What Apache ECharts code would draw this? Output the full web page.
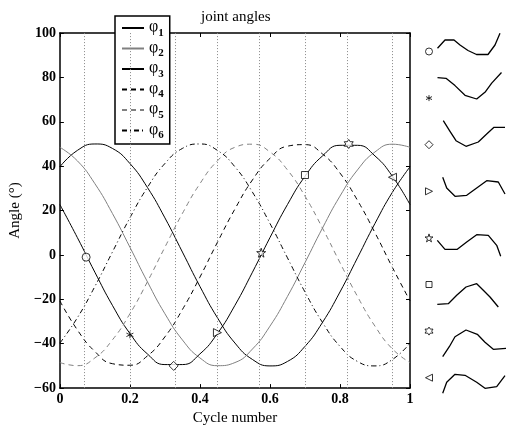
<!DOCTYPE html>
<html>
<head>
<meta charset="utf-8">
<script src="https://cdn.jsdelivr.net/npm/echarts@6/dist/echarts.min.js"></script>
<style>
  html, body { margin: 0; padding: 0; background: #fff; }
  #chart { width: 506px; height: 431px; }
</style>
</head>
<body>
<div id="chart"></div>
<script>
// cycle positions (x) and joint angle values
const cycle = [0, 0.05, 0.1, 0.15, 0.2, 0.25, 0.3, 0.35, 0.4, 0.45, 0.5,
  0.55, 0.6, 0.65, 0.7, 0.75, 0.8, 0.85, 0.9, 0.95, 1];
const phi1 = [39.7, 47.1, 50.0, 48.0, 41.2, 30.4, 16.7, 1.3, -14.2, -28.3, -39.7,
  -47.1, -50.0, -48.0, -41.2, -30.4, -16.7, -1.3, 14.2, 28.3, 39.7];
const phi2 = [48.5, 42.4, 32.1, 18.7, 3.5, -12.1, -26.5, -38.3, -46.4, -49.9, -48.5,
  -42.4, -32.1, -18.7, -3.5, 12.1, 26.5, 38.3, 46.4, 49.9, 48.5];
const phi3 = [22.7, 7.8, -7.8, -22.7, -35.4, -44.6, -49.4, -49.4, -44.6, -35.4, -22.7,
  -7.8, 7.8, 22.7, 35.4, 44.6, 49.4, 49.4, 44.6, 35.4, 22.7];
const phi4 = [-20.7, -33.8, -43.5, -49.0, -49.7, -45.5, -36.9, -24.6, -10.0, 5.7, 20.7,
  33.8, 43.5, 49.0, 49.7, 45.5, 36.9, 24.6, 10.0, -5.7, -20.7];
const phi5 = [-48.5, -49.9, -46.4, -38.3, -26.5, -12.1, 3.5, 18.7, 32.1, 42.4, 48.5,
  49.9, 46.4, 38.3, 26.5, 12.1, -3.5, -18.7, -32.1, -42.4, -48.5];
const phi6 = [-39.7, -28.3, -14.2, 1.3, 16.7, 30.4, 41.2, 48.0, 50.0, 47.1, 39.7,
  28.3, 14.2, -1.3, -16.7, -30.4, -41.2, -48.0, -50.0, -47.1, -39.7];

// sampled instants (dotted lines + markers on phi3)
const markX = [0.075, 0.2, 0.325, 0.45, 0.575, 0.7, 0.825, 0.95];
const markY = [-1, -36, -50, -35, 1, 36, 50, 35];

// body shapes at each sampled instant (local x, local y)
const pose1 = [[0.5,3.2],[8,11.5],[17,11.5],[23,6.5],[31,1],[39.5,-3],[51,-3],[58,6.5],[63,18.2]];
const pose2 = [[0.5,20.4],[9,19.8],[18,12.5],[28,2.8],[39.7,-0.9],[48.5,6.4],[54.7,15],[64.5,25.6]];
const pose3 = [[6.3,24],[13,13.4],[19,4],[29,-1.6],[41.3,2.7],[49.7,10.7],[57,17.4],[68,17.4]];
const pose4 = [[5.7,14],[9.7,3.3],[18,-5],[29.7,-4],[39.7,3.3],[49.7,10.6],[61.3,9.3],[68,-2.7]];
const pose5 = [[0.3,-2.4],[8,-11.4],[20.3,-11.4],[29.7,-4.1],[39.7,3.2],[51.3,2.6],[59.7,-7.4],[63.7,-18.4]];
const pose6 = [[0.3,-19.8],[11.3,-19.2],[19.7,-10.8],[29,-2.5],[39.7,0.8],[46.3,-5.8],[53,-12.5],[61.3,-22.5]];
const pose7 = [[5.7,-25.6],[12.3,-15.6],[18,-5.6],[29,1.1],[40.3,-3.2],[48,-11.2],[56.3,-18.2],[69,-17.2]];
const pose8 = [[5.7,-15.6],[9.7,-4.6],[18,3.4],[28,2.4],[39.7,-4.6],[48,-10.6],[59.7,-9],[68,2]];
const poses = [pose1, pose2, pose3, pose4, pose5, pose6, pose7, pose8];

const names = ['φ1', 'φ2', 'φ3', 'φ4', 'φ5', 'φ6'];

const asterisk = 'path://M0,-1L0,1M-0.87,-0.5L0.87,0.5M-0.87,0.5L0.87,-0.5';
const star5 = 'path://M0,-1L0.2245,-0.309L0.951,-0.309L0.363,0.118L0.588,0.809L0,0.382L-0.588,0.809L-0.363,0.118L-0.951,-0.309L-0.2245,-0.309Z';
const star6 = 'path://M0,-1L0.289,-0.5L0.866,-0.5L0.577,0L0.866,0.5L0.289,0.5L0,1L-0.289,0.5L-0.866,0.5L-0.577,0L-0.866,-0.5L-0.289,-0.5Z';
const triRight = 'path://M-0.8,-1L1,0L-0.8,1Z';
const triLeft = 'path://M0.8,-1L-1,0L0.8,1Z';
const markSymbols = ['circle', asterisk, 'diamond', triRight, star5, 'rect', star6, triLeft];
const markSizes = [8, 7, 9, 8, 9, 7, 9, 8];

const serif = '"Liberation Serif", "DejaVu Serif", serif';
const minus = v => String(v).replace('-', '\u2212');

const chart = echarts.init(document.getElementById('chart'));

const pair = ys => cycle.map((x, i) => [x, ys[i]]);

const lineStyles = [
  {color: '#000', width: 1, type: 'solid'},
  {color: '#808080', width: 1, type: 'solid'},
  {color: '#000', width: 1, type: 'solid'},
  {color: '#000', width: 1, type: [5, 4]},
  {color: '#808080', width: 1, type: [5, 4]},
  {color: '#000', width: 1, type: [5, 3, 1, 3]}
];
const values = [phi1, phi2, phi3, phi4, phi5, phi6];

const frameLine = {show: true, onZero: false, lineStyle: {color: '#000', width: 1.5}};
const inTick = {show: true, inside: true, length: 4, lineStyle: {color: '#000'}};

const grids = [{left: 57, right: 96, top: 33, bottom: 38}];
const xAxes = [
  {
    type: 'value', gridIndex: 0, min: 0, max: 1, interval: 0.2,
    name: 'Cycle number', nameLocation: 'middle', nameGap: 21,
    nameTextStyle: {fontFamily: serif, fontSize: 15, color: '#000'},
    axisLine: frameLine, axisTick: inTick,
    axisLabel: {fontFamily: serif, fontWeight: 'bold', fontSize: 14, color: '#000', margin: 4},
    splitLine: {show: false}
  },
  {
    type: 'value', gridIndex: 0, position: 'top', min: 0, max: 1, interval: 0.2,
    axisLine: frameLine, axisTick: inTick,
    axisLabel: {show: false}, splitLine: {show: false}
  }
];
const yAxes = [
  {
    type: 'value', gridIndex: 0, min: -60, max: 100, interval: 20,
    name: 'Angle (°)', nameLocation: 'middle', nameGap: 27, nameRotate: 90,
    nameTextStyle: {fontFamily: serif, fontSize: 15, color: '#000'},
    axisLine: frameLine, axisTick: inTick,
    axisLabel: {fontFamily: serif, fontWeight: 'bold', fontSize: 14, color: '#000', margin: 4, formatter: minus},
    splitLine: {show: false}
  },
  {
    type: 'value', gridIndex: 0, position: 'right', min: -60, max: 100, interval: 20,
    axisLine: frameLine, axisTick: inTick,
    axisLabel: {show: false}, splitLine: {show: false}
  }
];

const series = [];

// dotted sampling lines
series.push({
  type: 'line', xAxisIndex: 0, yAxisIndex: 0, data: [], silent: true,
  markLine: {
    silent: true, symbol: ['none', 'none'], label: {show: false},
    lineStyle: {color: '#888', type: [1, 2], width: 1},
    data: markX.map(x => ({xAxis: x}))
  }
});

values.forEach((ys, i) => {
  series.push({
    name: names[i], type: 'line', xAxisIndex: 0, yAxisIndex: 0,
    data: pair(ys), smooth: true, symbol: 'none', showSymbol: false,
    itemStyle: {color: lineStyles[i].color, opacity: 0},
    lineStyle: lineStyles[i]
  });
});

series.push({
  type: 'scatter', xAxisIndex: 0, yAxisIndex: 0, z: 5,
  data: markX.map((x, i) => ({
    value: [x, markY[i]], symbol: markSymbols[i], symbolSize: markSizes[i]
  })),
  itemStyle: {color: '#fff', borderColor: '#000', borderWidth: 1}
});

// right-hand body shapes
poses.forEach((pose, k) => {
  const center = 51.5 + k * 46.6;
  grids.push({left: 427, width: 79, top: center - 30, height: 60});
  xAxes.push({type: 'value', gridIndex: k + 1, min: -10, max: 69, show: false});
  yAxes.push({type: 'value', gridIndex: k + 1, min: -30, max: 30, show: false});
  series.push({
    type: 'line', xAxisIndex: k + 2, yAxisIndex: k + 2, data: pose,
    symbol: 'none', lineStyle: {color: '#000', width: 1.3}
  });
  series.push({
    type: 'scatter', xAxisIndex: k + 2, yAxisIndex: k + 2,
    data: [{value: [-8, 0], symbol: markSymbols[k], symbolSize: markSizes[k] - 1}],
    itemStyle: {color: '#fff', borderColor: '#000', borderWidth: 1}
  });
});

chart.setOption({
  animation: false,
  backgroundColor: '#fff',
  title: {
    text: 'joint angles', left: 196, top: 5,
    textStyle: {fontFamily: serif, fontSize: 15, fontWeight: 'normal', color: '#000'}
  },
  legend: {
    data: names, orient: 'vertical', left: 115, top: 16,
    backgroundColor: '#fff', borderColor: '#000', borderWidth: 1.5, borderRadius: 0,
    padding: [3, 6, 3, 6], itemWidth: 22, itemHeight: 12, itemGap: 1,
    itemStyle: {opacity: 0},
    formatter: n => '{p|φ}{s|' + n.slice(1) + '}',
    textStyle: {
      color: '#000',
      rich: {
        p: {fontFamily: serif, fontSize: 16, color: '#000', lineHeight: 18, padding: [0, 0, 2, 0]},
        s: {fontFamily: serif, fontSize: 11, fontWeight: 'bold', color: '#000', padding: [10, 0, 0, 0]}
      }
    }
  },
  grid: grids,
  xAxis: xAxes,
  yAxis: yAxes,
  series: series
});
</script>
</body>
</html>
